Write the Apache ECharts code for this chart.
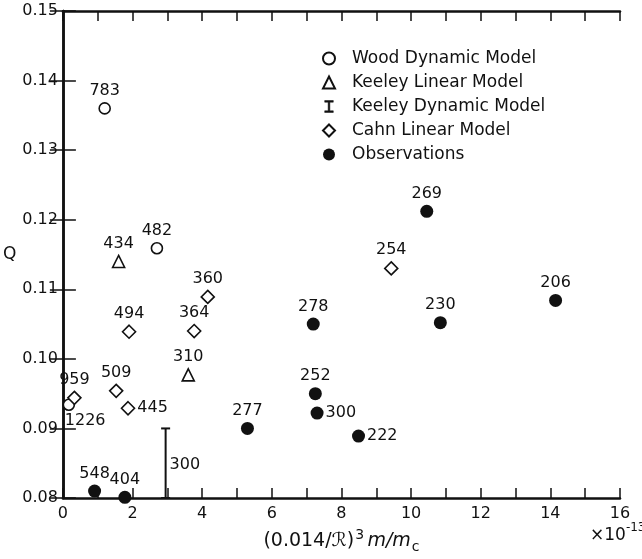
<!DOCTYPE html>
<html>
<head>
<meta charset="utf-8">
<script src="https://cdn.jsdelivr.net/npm/echarts@6/dist/echarts.min.js"></script>
<style>
html,body{margin:0;padding:0;background:#fff;}
#chart{width:642px;height:559px;}
</style>
</head>
<body>
<div id="chart"></div>
<script>
// ---- data ----
var woodX = [1.2, 2.7, 0.17];
var woodY = [0.136, 0.1159, 0.0934];
var woodLabels = ['783', '482', '1226'];

var keeleyLinX = [1.6, 3.6];
var keeleyLinY = [0.114, 0.0977];
var keeleyLinLabels = ['434', '310'];

var keeleyDynX = [2.95];
var keeleyDynLow = [0.08];
var keeleyDynHigh = [0.09];
var keeleyDynLabels = ['300'];

var cahnX = [0.33, 1.53, 1.87, 1.9, 3.77, 4.16, 9.43];
var cahnY = [0.0944, 0.0954, 0.0929, 0.1039, 0.104, 0.1089, 0.113];
var cahnLabels = ['959', '509', '445', '494', '364', '360', '254'];

var obsX = [0.91, 1.78, 5.3, 7.25, 7.3, 8.49, 7.19, 10.84, 10.45, 14.15];
var obsY = [0.081, 0.0801, 0.09, 0.095, 0.0922, 0.0889, 0.105, 0.1052, 0.1212, 0.1084];
var obsLabels = ['548', '404', '277', '252', '300', '222', '278', '230', '269', '206'];

var yTicks = ['0.08', '0.09', '0.10', '0.11', '0.12', '0.13', '0.14', '0.15'];

// label placement overrides (style)
var rightLabel = {'445': 1, '300': 1, '222': 1};

var FONT = 'DejaVu Sans';
var INK = '#111';

function buildData(xs, ys, labels) {
  return xs.map(function (x, i) {
    var item = {value: [x, ys[i]], name: labels[i]};
    if (rightLabel[labels[i]]) {
      item.label = {position: 'right', distance: 2};
    } else if (labels[i] === '1226') {
      item.label = {position: 'bottom', align: 'left', offset: [-4, 0], distance: 2};
    }
    return item;
  });
}

var baseLabel = {
  show: true, position: 'top', distance: 3,
  formatter: function (p) { return p.name; },
  color: INK, fontFamily: FONT, fontSize: 16
};
var openStyle = {color: '#fff', borderColor: INK, borderWidth: 1.6, opacity: 1};

var chart = echarts.init(document.getElementById('chart'), null, {renderer: 'canvas'});

var xTick = {show: true, inside: true, length: 10, lineStyle: {color: INK, width: 1.5}};
var yTick = {show: true, inside: true, length: 13, lineStyle: {color: INK, width: 1.5}};
var lineStyle = {show: true, lineStyle: {color: INK, width: 2.5}};

var option = {
  animation: false,
  backgroundColor: '#fff',
  grid: {left: 55, right: 22, top: 11, bottom: 53, containLabel: false},
  legend: {
    orient: 'vertical', left: 317, top: 45, itemGap: 7,
    itemWidth: 12, itemHeight: 12,
    textStyle: {fontFamily: FONT, fontSize: 17, color: INK, padding: [0, 0, 0, 12]},
    data: [
      {name: 'Wood Dynamic Model', icon: 'circle'},
      {name: 'Keeley Linear Model', icon: 'triangle'},
      {name: 'Keeley Dynamic Model', icon: 'path://M0,0 H10 V2 H6 V12 H10 V14 H0 V12 H4 V2 H0 Z', itemStyle: {color: INK, borderColor: INK, borderWidth: 0.5}},
      {name: 'Cahn Linear Model', icon: 'diamond'},
      {name: 'Observations', icon: 'circle'}
    ]
  },
  xAxis: [{
    type: 'value', min: 0, max: 16, interval: 1,
    position: 'bottom',
    axisLine: lineStyle, axisTick: xTick, splitLine: {show: false},
    axisLabel: {
      color: INK, fontFamily: FONT, fontSize: 16, margin: 8,
      formatter: function (v) { return v % 2 === 0 ? String(v) : ''; }
    },
    name: '{a|(0.014/ℛ)}{p|3} {i|m/m}{s|c}',
    nameLocation: 'middle', nameGap: 30,
    nameTextStyle: {
      rich: {
        a: {fontFamily: FONT, fontSize: 19, color: INK, lineHeight: 26},
        p: {fontFamily: FONT, fontSize: 14, color: INK, lineHeight: 26, verticalAlign: 'top', padding: [0, 0, 6, 1]},
        i: {fontFamily: FONT, fontSize: 19, fontStyle: 'italic', color: INK, lineHeight: 26},
        s: {fontFamily: FONT, fontSize: 14, color: INK, lineHeight: 26, verticalAlign: 'bottom', padding: [8, 0, 0, 1]}
      }
    }
  }, {
    type: 'value', min: 0, max: 16, interval: 1,
    position: 'top',
    axisLine: lineStyle, axisTick: xTick, splitLine: {show: false},
    axisLabel: {show: false}
  }],
  yAxis: [{
    type: 'value', min: 0.08, max: 0.15, interval: 0.01,
    position: 'left',
    axisLine: lineStyle, axisTick: yTick, splitLine: {show: false},
    axisLabel: {
      color: INK, fontFamily: FONT, fontSize: 16, margin: 5,
      formatter: function (v) { return yTicks[Math.round((v - 0.08) / 0.01)]; }
    },
    name: 'Q', nameLocation: 'middle', nameRotate: 0, nameGap: 38,
    nameTextStyle: {fontFamily: FONT, fontSize: 17, color: INK}
  }, {
    type: 'value', min: 0.08, max: 0.15, interval: 0.01,
    position: 'right',
    axisLine: lineStyle, axisTick: yTick, splitLine: {show: false},
    axisLabel: {show: false}
  }],
  series: [
    {
      name: 'Wood Dynamic Model', type: 'scatter', symbol: 'circle', symbolSize: 11,
      itemStyle: openStyle, label: baseLabel, clip: false,
      data: buildData(woodX, woodY, woodLabels)
    },
    {
      name: 'Keeley Linear Model', type: 'scatter', symbol: 'triangle', symbolSize: 12,
      itemStyle: openStyle, label: baseLabel, clip: false,
      data: buildData(keeleyLinX, keeleyLinY, keeleyLinLabels)
    },
    {
      name: 'Keeley Dynamic Model', type: 'custom',
      itemStyle: {color: INK},
      renderItem: function (params, api) {
        var x = api.value(0);
        var top = api.coord([x, api.value(2)]);
        var bot = api.coord([x, api.value(1)]);
        var w = 4.5;
        return {
          type: 'group',
          children: [
            {type: 'line', shape: {x1: top[0], y1: top[1], x2: bot[0], y2: bot[1]}, style: {stroke: INK, lineWidth: 2}},
            {type: 'line', shape: {x1: top[0] - w, y1: top[1], x2: top[0] + w, y2: top[1]}, style: {stroke: INK, lineWidth: 2}},
            {type: 'line', shape: {x1: bot[0] - w, y1: bot[1], x2: bot[0] + w, y2: bot[1]}, style: {stroke: INK, lineWidth: 2}},
            {type: 'text', style: {text: keeleyDynLabels[params.dataIndex], x: top[0] + 4, y: (top[1] + bot[1]) / 2 + 2, textVerticalAlign: 'middle', fill: INK, font: '16px ' + FONT}}
          ]
        };
      },
      data: keeleyDynX.map(function (x, i) { return [x, keeleyDynLow[i], keeleyDynHigh[i]]; })
    },
    {
      name: 'Cahn Linear Model', type: 'scatter', symbol: 'diamond', symbolSize: 13,
      itemStyle: openStyle, label: baseLabel, clip: false,
      data: buildData(cahnX, cahnY, cahnLabels)
    },
    {
      name: 'Observations', type: 'scatter', symbol: 'circle', symbolSize: 13,
      itemStyle: {color: INK, opacity: 1}, label: baseLabel, clip: false,
      data: buildData(obsX, obsY, obsLabels)
    }
  ],
  graphic: [{
    type: 'text', left: 590, top: 522,
    style: {
      text: '{a|×10}{b|-13}',
      rich: {
        a: {fontFamily: FONT, fontSize: 17, fill: INK, color: INK, lineHeight: 22, verticalAlign: 'bottom'},
        b: {fontFamily: FONT, fontSize: 12, fill: INK, color: INK, lineHeight: 22, verticalAlign: 'top', padding: [0, 0, 6, 0]}
      }
    }
  }]
};
chart.setOption(option);
</script>
</body>
</html>
